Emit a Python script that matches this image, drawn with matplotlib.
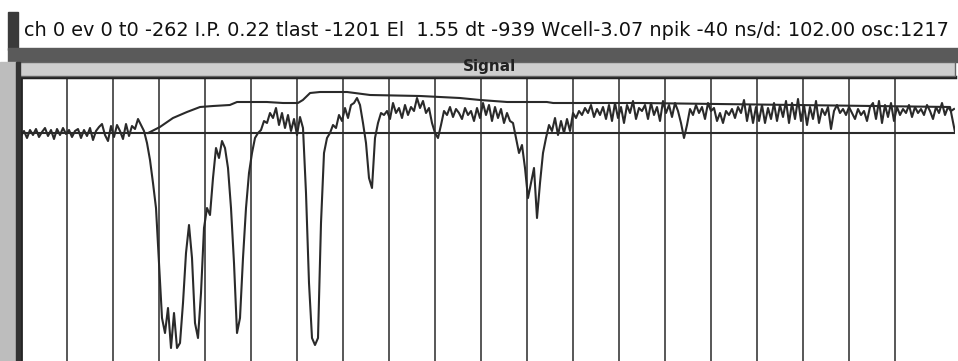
import numpy as np
import matplotlib
matplotlib.use('Agg')
import matplotlib.pyplot as plt
from matplotlib.patches import Rectangle

# header readout of the scope window
header = ('ch 0 ev 0 t0 -262 I.P. 0.22 tlast -1201 El  1.55 dt -939 '
          'Wcell-3.07 npik -40 ns/d: 102.00 osc:1217')
window_title = 'Signal'

ns_per_div = 102.0
n_div = 19
dt_ns = ns_per_div / 46 * 3   # one sample every 3 screen px

# sampled pulse trace (arbitrary units, 0 = pedestal)
signal = [
    -3, 2, -5, 3, -2, 4, -4, 1, 5, -3, 3, -6, 4, -2, 5, -1, 3, -4, 2, 4,
    -5, 3, -3, 5, -7, 2, 6, 9, -2, -8, 7, -4, 8, 2, -6, 9, -3, 7, 4, 14,
    8, 2, -10, -27, -50, -75, -130, -185, -200, -175, -215, -180, -215, -210, -170, -120,
    -92, -125, -190, -205, -160, -95, -75, -82, -45, -15, -25, -8, -15, -35,
    -75, -130, -200, -185, -125, -75, -40, -20, -5, 0, 3, 12, 10, 20, 15, 25,
    8, 20, 5, 18, 2, 14, -2, 16, 5, -60, -150, -205, -212, -205, -90, -20,
    -5, 0, 8, 5, 18, 12, 25, 15, 28, 30, 35, 28, 10, -10, -45, -55, -5, 10,
    20, 18, 22, 14, 30, 20, 25, 15, 28, 18, 26, 22, 35, 25, 32, 20, 25, 10,
    0, -5, 8, 22, 18, 26, 16, 24, 20, 14, 25, 18, 22, 12, 25, 15, 30, 18,
    28, 12, 26, 15, 24, 10, 20, 12, 10, -5, -20, -12, -35, -65, -50, -35,
    -85, -50, -20, -5, 8, 2, 15, -2, 12, 0, 14, 2, 20, 15, 22, 18, 25, 20,
    28, 16, 24, 18, 26, 14, 28, 12, 30, 15, 26, 10, 28, 20, 32, 14, 25,
    22, 28, 14, 30, 18, 26, 12, 32, 20, 28, 16, 30, 22, 10, -5, 8, 24, 18,
    28, 20, 26, 14, 30, 22, 25, 12, 20, 10, 22, 18, 24, 15, 26, 20, 33, 12,
    28, 10, 26, 12, 28, 10, 25, 14, 30, 12, 28, 16, 32, 10, 30, 14, 34, 12,
    28, 8, 26, 14, 32, 10, 24, 18, 26, 4, 22, 28, 20, 24, 18, 26, 20, 14,
    24, 18, 22, 12, 26, 30, 14, 32, 10, 28, 16, 30, 12, 26, 18, 24, 20, 28,
    16, 26, 20, 24, 18, 28, 22, 14, 26, 20, 30, 18, 26, 22, 24,
]

# running integral of the pulse
integral_t = [282, 308, 337, 368, 397, 426, 463, 479, 545, 581, 614, 625, 641,
              663, 723, 774, 885, 973, 1018, 1078, 1166, 1180, 1373, 2060, 2071]
integral_v = [0, 6, 15, 21, 26, 27, 28, 31, 31, 30, 30, 33, 40,
              41, 41, 38, 37, 35, 33, 31, 31, 30, 30, 26, 1]

t = np.arange(len(signal)) * dt_ns

W, H = 958, 361
fig = plt.figure(figsize=(W / 100, H / 100), dpi=100)


def box(px, py, pw, ph, **kw):
    fig.patches.append(Rectangle((px / W, 1 - (py + ph) / H), pw / W, ph / H,
                                 transform=fig.transFigure, **kw))


# window chrome
box(8, 12, 10, 38, color='#3a3a3a')
box(8, 48, 950, 14, color='#5a5a5a')
box(18, 62, 937, 14, facecolor='#cfcfcf', edgecolor='#666666', lw=1)
box(0, 62, 16, 299, color='#bdbdbd')
box(16, 62, 4, 299, color='#333333')
fig.text(490 / W, 1 - 66 / H, window_title, ha='center', va='center',
         fontsize=11, fontweight='bold', color='#222222')
fig.text(24 / W, 1 - 31 / H, header, ha='left', va='center',
         fontsize=13.85, color='#111111')

ax = fig.add_axes([21 / W, 0, 934 / W, 1 - 77 / H])
ax.set_xlim(0, 934 * ns_per_div / 46)
ax.set_ylim(-228, 56)
for k in range(1, n_div + 1):
    ax.axvline(k * ns_per_div, color='#4a4a4a', lw=1.3)
ax.plot([0, integral_t[-1]], [0, 0], color='#2a2a2a', lw=1.5)
ax.plot(integral_t, integral_v, color='#2a2a2a', lw=1.5)
ax.plot(t, signal, color='#2a2a2a', lw=1.5)

ax.set_xticks([])
ax.set_yticks([])
ax.spines['right'].set_visible(False)
ax.spines['bottom'].set_visible(False)
ax.spines['top'].set_linewidth(2.5)
ax.spines['left'].set_linewidth(2)
ax.spines['top'].set_color('#222222')
ax.spines['left'].set_color('#222222')

fig.savefig('out.png', dpi=100)
